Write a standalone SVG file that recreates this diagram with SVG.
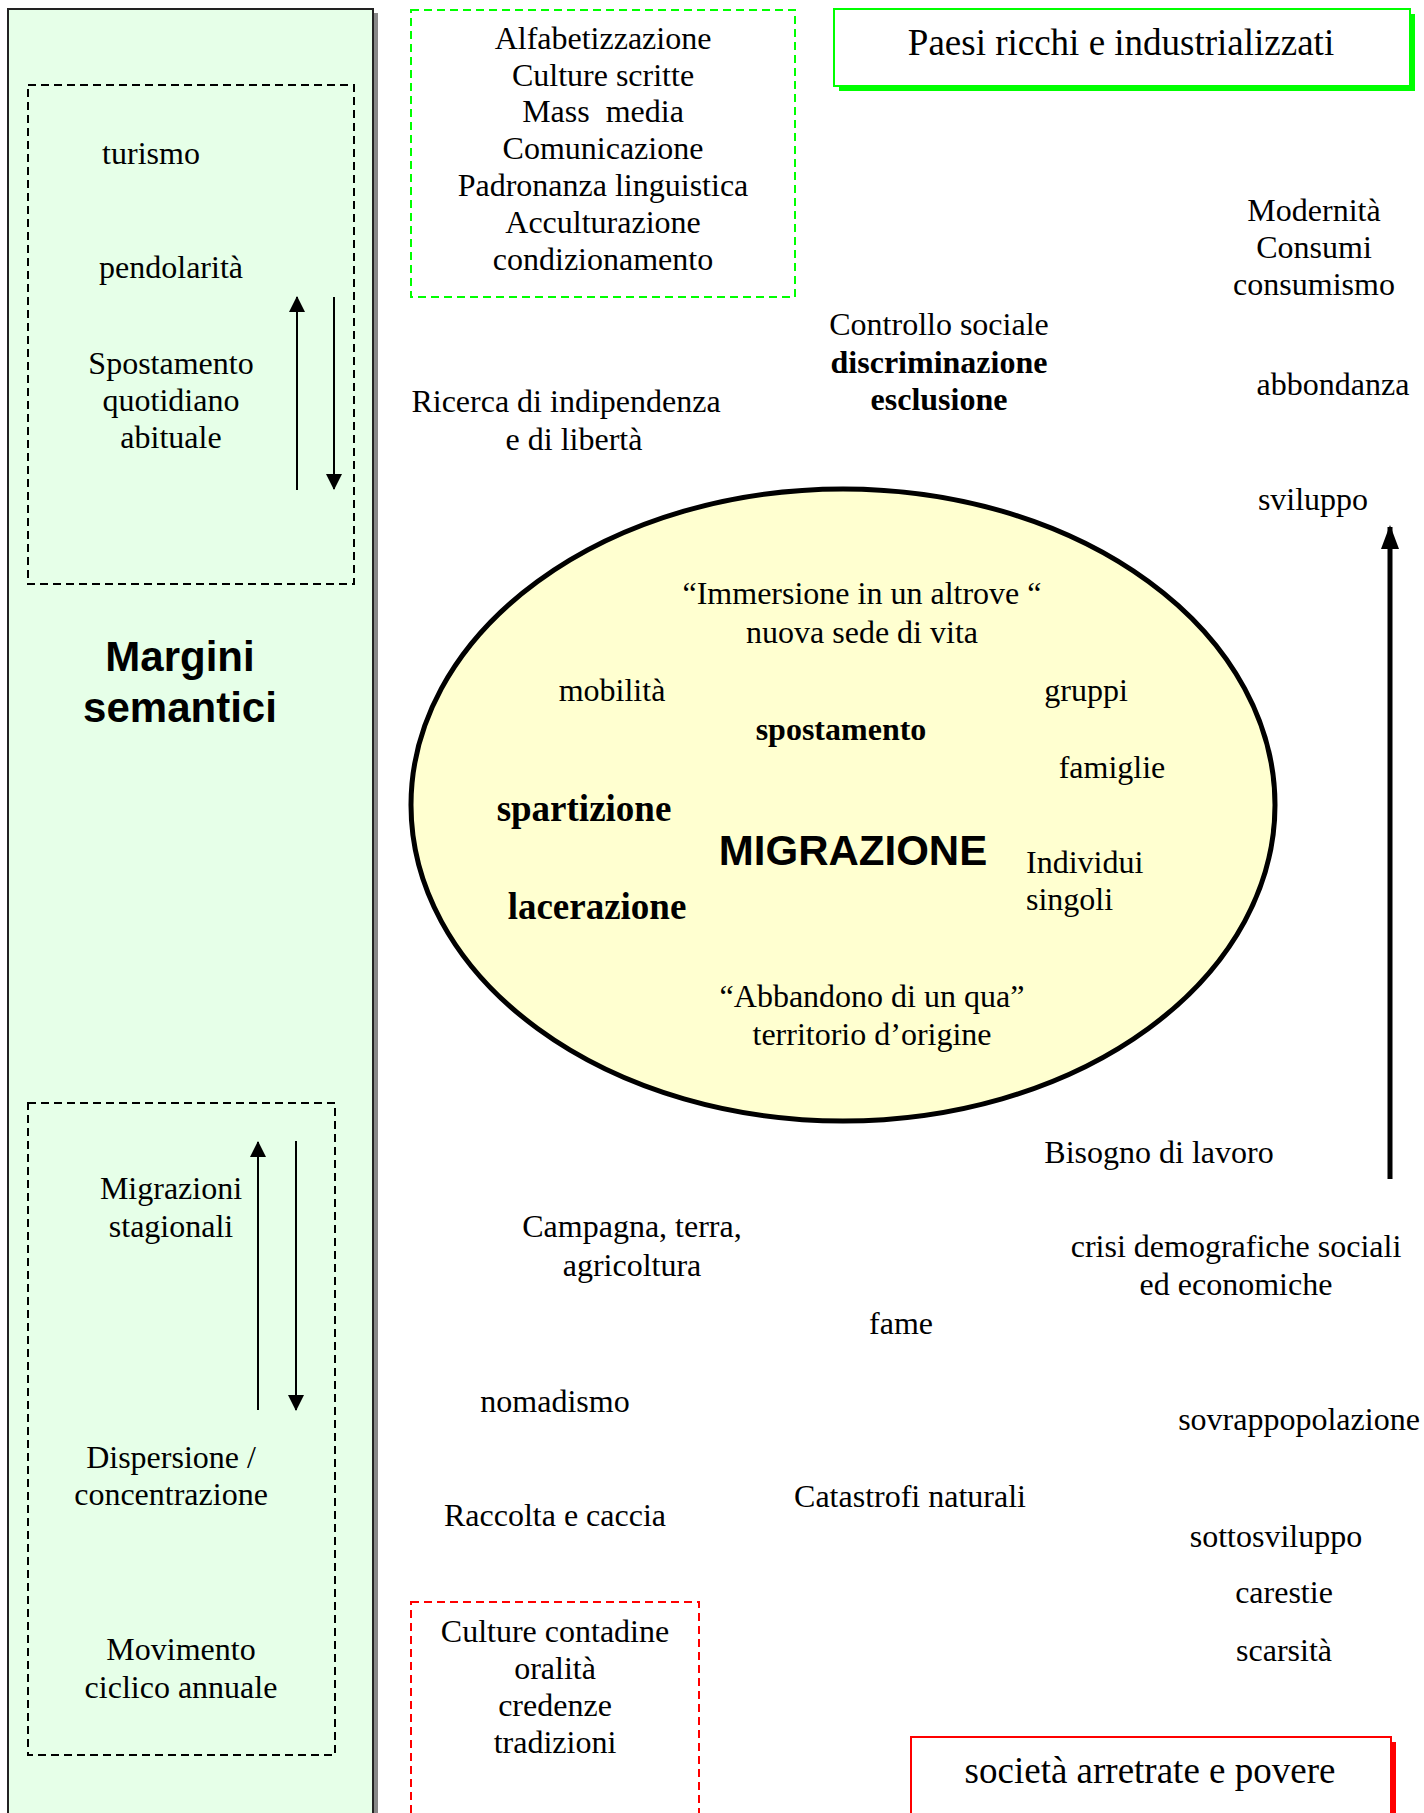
<svg xmlns="http://www.w3.org/2000/svg" width="1424" height="1813" viewBox="0 0 1424 1813">
<style>
text{font-family:"Liberation Serif","Times New Roman",serif;font-size:32px;fill:#000;text-anchor:middle}
.b{font-weight:bold}
.big{font-size:37px}
.sans{font-family:"Liberation Sans",Arial,sans-serif;font-weight:bold;font-size:42px}
.st{text-anchor:start}
.dk{fill:none;stroke:#000;stroke-width:2;stroke-dasharray:8 5}
.dg{fill:none;stroke:#00ff00;stroke-width:2;stroke-dasharray:8 5}
.dr{fill:none;stroke:#ff0000;stroke-width:2;stroke-dasharray:8 5}
.ar{stroke:#000;stroke-width:2;fill:none}
</style>
<defs>
<marker id="ah" markerUnits="userSpaceOnUse" markerWidth="16" markerHeight="16" refX="15" refY="8" orient="auto" viewBox="0 0 16 16">
<path d="M0,0 L16,8 L0,16 z" fill="#000"/>
</marker>
<marker id="ahb" markerUnits="userSpaceOnUse" markerWidth="24" markerHeight="18" refX="22" refY="9" orient="auto" viewBox="0 0 24 18">
<path d="M0,0 L24,9 L0,18 z" fill="#000"/>
</marker>
</defs>
<rect width="1424" height="1813" fill="#fff"/>

<g id="panel-margini">
<rect x="12" y="13" width="366" height="1820" fill="#888"/>
<rect x="8" y="9" width="365" height="1820" fill="#e6ffe8" stroke="#222" stroke-width="2"/>
<text class="sans" x="180" y="671">Margini</text>
<text class="sans" x="180" y="722">semantici</text>
</g>

<g id="box-quotidiano">
<rect class="dk" x="28" y="85" width="326" height="499"/>
<text x="151" y="164">turismo</text>
<text x="171" y="278">pendolarità</text>
<text x="171" y="374">Spostamento</text>
<text x="171" y="411">quotidiano</text>
<text x="171" y="448">abituale</text>
</g>

<g id="box-stagionali">
<rect class="dk" x="28" y="1103" width="307" height="652"/>
<text x="171" y="1199">Migrazioni</text>
<text x="171" y="1237">stagionali</text>
<text x="171" y="1468">Dispersione /</text>
<text x="171" y="1505">concentrazione</text>
<text x="181" y="1660">Movimento</text>
<text x="181" y="1698">ciclico annuale</text>
</g>

<g id="box-culture-scritte">
<rect class="dg" x="411" y="10" width="384" height="287"/>
<text x="603" y="49">Alfabetizzazione</text>
<text x="603" y="86">Culture scritte</text>
<text x="603" y="122" style="white-space:pre">Mass  media</text>
<text x="603" y="159">Comunicazione</text>
<text x="603" y="196">Padronanza linguistica</text>
<text x="603" y="233">Acculturazione</text>
<text x="603" y="270">condizionamento</text>
</g>

<g id="box-paesi-ricchi">
<rect x="839" y="14" width="576" height="77" fill="#00ff00"/>
<rect x="834" y="9" width="576" height="77" fill="#fff" stroke="#00ff00" stroke-width="2"/>
<text class="big" x="1121" y="55">Paesi ricchi e industrializzati</text>
</g>

<g id="node-modernita">
<text x="1314" y="221">Modernità</text>
<text x="1314" y="258">Consumi</text>
<text x="1314" y="295">consumismo</text>
</g>
<g id="node-abbondanza"><text x="1333" y="395">abbondanza</text></g>
<g id="node-sviluppo"><text x="1313" y="510">sviluppo</text></g>

<g id="node-controllo">
<text x="939" y="335">Controllo sociale</text>
<text class="b" x="939" y="373">discriminazione</text>
<text class="b" x="939" y="410">esclusione</text>
</g>

<g id="node-ricerca">
<text x="566" y="412">Ricerca di indipendenza</text>
<text x="574" y="450">e di libertà</text>
</g>

<g id="node-migrazione">
<ellipse cx="843" cy="805" rx="432" ry="316" fill="#ffffd0" stroke="#000" stroke-width="5"/>
<text x="862" y="604">“Immersione in un altrove “</text>
<text x="862" y="643">nuova sede di vita</text>
<text x="612" y="701">mobilità</text>
<text x="1086" y="701">gruppi</text>
<text class="b" x="841" y="740">spostamento</text>
<text x="1112" y="778">famiglie</text>
<text class="b big" x="584" y="821">spartizione</text>
<text class="sans" x="853" y="865">MIGRAZIONE</text>
<text class="st" x="1026" y="873">Individui</text>
<text class="st" x="1026" y="910">singoli</text>
<text class="b big" x="597" y="919">lacerazione</text>
<text x="872" y="1007">“Abbandono di un qua”</text>
<text x="872" y="1045">territorio d’origine</text>
</g>

<g id="node-bisogno"><text x="1159" y="1163">Bisogno di lavoro</text></g>
<g id="node-campagna">
<text x="632" y="1237">Campagna, terra,</text>
<text x="632" y="1276">agricoltura</text>
</g>
<g id="node-crisi">
<text x="1236" y="1257">crisi demografiche sociali</text>
<text x="1236" y="1295">ed economiche</text>
</g>
<g id="node-fame"><text x="901" y="1334">fame</text></g>
<g id="node-nomadismo"><text x="555" y="1412">nomadismo</text></g>
<g id="node-sovrappopolazione"><text x="1299" y="1430">sovrappopolazione</text></g>
<g id="node-catastrofi"><text x="910" y="1507">Catastrofi naturali</text></g>
<g id="node-raccolta"><text x="555" y="1526">Raccolta e caccia</text></g>
<g id="node-sottosviluppo"><text x="1276" y="1547">sottosviluppo</text></g>
<g id="node-carestie"><text x="1284" y="1603">carestie</text></g>
<g id="node-scarsita"><text x="1284" y="1661">scarsità</text></g>

<g id="box-culture-contadine">
<rect class="dr" x="411" y="1602" width="288" height="240"/>
<text x="555" y="1642">Culture contadine</text>
<text x="555" y="1679">oralità</text>
<text x="555" y="1716">credenze</text>
<text x="555" y="1753">tradizioni</text>
</g>

<g id="box-societa-povere">
<rect x="916" y="1742" width="480" height="120" fill="#ff0000"/>
<rect x="911" y="1737" width="480" height="120" fill="#fff" stroke="#ff0000" stroke-width="2"/>
<text class="big" x="1150" y="1783">società arretrate e povere</text>
</g>

<g id="connectors">
<line class="ar" x1="297" y1="490" x2="297" y2="297" marker-end="url(#ah)"/>
<line class="ar" x1="334" y1="297" x2="334" y2="489" marker-end="url(#ah)"/>
<line class="ar" x1="258" y1="1410" x2="258" y2="1142" marker-end="url(#ah)"/>
<line class="ar" x1="296" y1="1141" x2="296" y2="1410" marker-end="url(#ah)"/>
<line x1="1390" y1="1179" x2="1390" y2="527" stroke="#000" stroke-width="5" marker-end="url(#ahb)"/>
</g>
</svg>
